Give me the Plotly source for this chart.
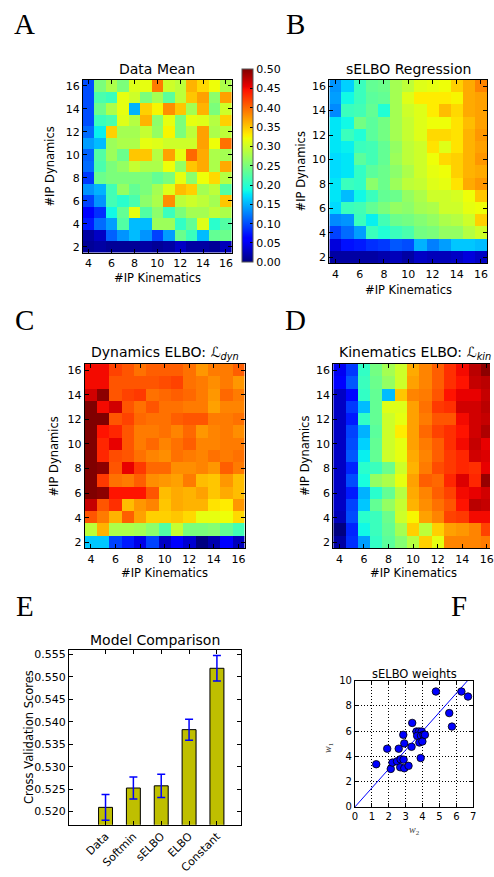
import plotly.graph_objects as go

W, H = 494, 877

# ---------------- data ----------------
kin = list(range(4, 17))            # #IP Kinematics (columns)
dyn = list(range(16, 1, -1))        # #IP Dynamics (rows, top -> bottom)

data_mean = [
    [0.100,0.250,0.280,0.250,0.310,0.315,0.390,0.300,0.290,0.360,0.340,0.320,0.280],
    [0.100,0.220,0.210,0.315,0.300,0.250,0.275,0.230,0.290,0.350,0.370,0.260,0.370],
    [0.100,0.240,0.280,0.315,0.150,0.345,0.325,0.380,0.350,0.275,0.360,0.250,0.300],
    [0.100,0.210,0.220,0.310,0.285,0.360,0.260,0.315,0.250,0.315,0.310,0.285,0.345],
    [0.115,0.180,0.345,0.275,0.275,0.295,0.265,0.325,0.250,0.290,0.370,0.280,0.290],
    [0.140,0.155,0.270,0.280,0.280,0.315,0.310,0.300,0.300,0.300,0.370,0.320,0.395],
    [0.110,0.225,0.270,0.240,0.350,0.350,0.285,0.370,0.315,0.400,0.365,0.280,0.275],
    [0.115,0.220,0.250,0.265,0.295,0.280,0.280,0.320,0.265,0.350,0.365,0.280,0.365],
    [0.090,0.240,0.250,0.250,0.250,0.250,0.235,0.250,0.315,0.260,0.320,0.340,0.285],
    [0.135,0.150,0.215,0.265,0.235,0.250,0.275,0.310,0.355,0.345,0.275,0.290,0.225],
    [0.095,0.135,0.215,0.200,0.220,0.260,0.280,0.380,0.290,0.300,0.290,0.275,0.350],
    [0.060,0.085,0.185,0.235,0.315,0.225,0.260,0.210,0.250,0.275,0.275,0.290,0.280],
    [0.075,0.115,0.140,0.225,0.155,0.155,0.270,0.270,0.205,0.235,0.310,0.200,0.225],
    [0.015,0.030,0.110,0.135,0.155,0.135,0.095,0.140,0.240,0.210,0.155,0.235,0.240],
    [0.010,0.015,0.010,0.010,0.010,0.015,0.010,0.015,0.030,0.015,0.015,0.010,0.025],
]

selbo_regression = [
    [0.135,0.165,0.210,0.235,0.240,0.275,0.290,0.310,0.315,0.320,0.345,0.365,0.385],
    [0.140,0.185,0.210,0.230,0.235,0.275,0.310,0.330,0.330,0.330,0.325,0.365,0.370],
    [0.130,0.210,0.215,0.235,0.195,0.275,0.300,0.310,0.330,0.355,0.340,0.365,0.370],
    [0.175,0.185,0.245,0.230,0.245,0.275,0.295,0.310,0.320,0.320,0.335,0.355,0.370],
    [0.175,0.210,0.195,0.230,0.245,0.275,0.295,0.310,0.340,0.340,0.335,0.360,0.375],
    [0.175,0.180,0.210,0.215,0.235,0.265,0.290,0.300,0.335,0.310,0.335,0.360,0.370],
    [0.170,0.175,0.230,0.215,0.235,0.270,0.290,0.300,0.320,0.340,0.345,0.360,0.375],
    [0.170,0.175,0.205,0.230,0.240,0.260,0.280,0.300,0.315,0.320,0.345,0.360,0.365],
    [0.175,0.210,0.205,0.260,0.240,0.270,0.290,0.295,0.310,0.315,0.335,0.365,0.375],
    [0.175,0.155,0.185,0.210,0.235,0.240,0.265,0.280,0.300,0.300,0.305,0.320,0.350],
    [0.170,0.210,0.215,0.235,0.250,0.265,0.260,0.275,0.280,0.300,0.300,0.315,0.320],
    [0.130,0.135,0.210,0.180,0.215,0.240,0.245,0.255,0.265,0.280,0.285,0.300,0.345],
    [0.095,0.115,0.140,0.210,0.195,0.210,0.220,0.245,0.250,0.265,0.265,0.285,0.300],
    [0.040,0.070,0.075,0.085,0.090,0.105,0.100,0.150,0.125,0.140,0.160,0.160,0.155],
    [0.015,0.015,0.015,0.015,0.020,0.025,0.015,0.030,0.025,0.025,0.030,0.040,0.030],
]

# normalised ELBO maps (no colour bar in the reference)
dynamics_elbo = [
    [0.90,0.90,0.84,0.82,0.79,0.81,0.81,0.81,0.79,0.75,0.78,0.78,0.81],
    [0.90,0.90,0.82,0.82,0.82,0.82,0.83,0.84,0.79,0.78,0.76,0.78,0.75],
    [0.93,0.99,0.82,0.84,0.85,0.79,0.80,0.81,0.80,0.78,0.75,0.80,0.78],
    [1.00,0.90,0.93,0.82,0.79,0.82,0.79,0.79,0.78,0.78,0.74,0.77,0.77],
    [1.00,1.00,0.82,0.84,0.80,0.79,0.79,0.81,0.82,0.82,0.78,0.78,0.79],
    [1.00,0.89,0.87,0.82,0.78,0.78,0.79,0.77,0.80,0.75,0.77,0.78,0.76],
    [1.00,0.87,0.91,0.82,0.78,0.80,0.77,0.79,0.81,0.77,0.77,0.78,0.78],
    [1.00,0.87,0.83,0.82,0.79,0.77,0.76,0.79,0.78,0.77,0.79,0.78,0.79],
    [1.00,0.99,0.82,0.91,0.85,0.80,0.80,0.76,0.76,0.77,0.75,0.81,0.78],
    [1.00,0.85,0.79,0.78,0.81,0.76,0.75,0.74,0.78,0.71,0.70,0.75,0.71],
    [1.00,0.99,0.89,0.89,0.89,0.82,0.71,0.73,0.72,0.74,0.70,0.73,0.71],
    [0.94,0.82,0.86,0.71,0.75,0.77,0.70,0.73,0.72,0.72,0.67,0.66,0.75],
    [0.82,0.78,0.72,0.81,0.74,0.69,0.69,0.70,0.68,0.63,0.63,0.64,0.68],
    [0.58,0.72,0.56,0.56,0.55,0.52,0.45,0.59,0.50,0.50,0.51,0.47,0.43],
    [0.32,0.32,0.19,0.15,0.09,0.19,0.06,0.12,0.07,0.00,0.04,0.12,0.05],
]

kinematics_elbo = [
    [0.10,0.18,0.41,0.49,0.55,0.60,0.73,0.77,0.81,0.86,0.90,0.95,0.99],
    [0.12,0.21,0.42,0.48,0.53,0.60,0.74,0.77,0.81,0.86,0.89,0.94,0.95],
    [0.06,0.13,0.41,0.47,0.31,0.70,0.77,0.78,0.82,0.89,0.91,0.91,0.94],
    [0.06,0.18,0.31,0.47,0.62,0.62,0.74,0.79,0.85,0.86,0.93,0.93,0.95],
    [0.06,0.15,0.41,0.47,0.60,0.63,0.74,0.78,0.82,0.82,0.90,0.93,0.94],
    [0.06,0.19,0.30,0.46,0.60,0.66,0.74,0.80,0.84,0.86,0.89,0.93,0.96],
    [0.06,0.20,0.33,0.47,0.60,0.63,0.74,0.78,0.81,0.86,0.90,0.94,0.91],
    [0.06,0.21,0.36,0.47,0.60,0.63,0.73,0.77,0.81,0.85,0.87,0.93,0.92],
    [0.06,0.16,0.40,0.42,0.48,0.60,0.72,0.78,0.83,0.85,0.87,0.86,0.91],
    [0.06,0.20,0.38,0.53,0.56,0.63,0.74,0.81,0.80,0.87,0.92,0.87,0.98],
    [0.06,0.15,0.30,0.40,0.47,0.57,0.73,0.77,0.81,0.84,0.90,0.91,0.93],
    [0.06,0.19,0.32,0.47,0.53,0.59,0.72,0.76,0.79,0.82,0.89,0.95,0.94],
    [0.05,0.20,0.40,0.42,0.48,0.60,0.65,0.74,0.77,0.84,0.85,0.90,0.90],
    [0.00,0.16,0.37,0.42,0.47,0.55,0.69,0.58,0.69,0.74,0.75,0.77,0.84],
    [0.03,0.17,0.28,0.41,0.46,0.51,0.57,0.69,0.63,0.77,0.77,0.77,0.78],
]

models = ["Data", "Softmin", "sELBO", "ELBO", "Constant"]
cv_scores = [0.52095, 0.52526, 0.52575, 0.53827, 0.55194]
cv_errors = [0.00285, 0.00245, 0.00260, 0.00234, 0.00285]

w2 = [1.26,1.91,2.12,2.22,2.49,2.59,2.70,2.68,2.88,2.92,2.86,2.92,3.17,3.35,3.39,
      3.64,3.79,3.95,3.68,3.91,4.05,3.81,3.99,3.89,4.14,4.79,5.58,5.74,6.30,6.69]
w1 = [3.38,4.61,3.01,3.51,3.61,4.61,3.77,3.14,3.74,3.06,5.71,5.03,3.25,4.76,6.65,
      5.97,5.97,5.97,5.63,5.63,5.71,5.10,5.18,3.87,5.71,9.14,7.43,6.36,9.14,8.74]
fit_w2 = [0, 7]
fit_w1 = [0, 10.5]

heat_x_ticks = [4, 6, 8, 10, 12, 14, 16]
heat_y_ticks = [2, 4, 6, 8, 10, 12, 14, 16]
cbar_ticks = [0.00, 0.05, 0.10, 0.15, 0.20, 0.25, 0.30, 0.35, 0.40, 0.45, 0.50]
bar_y_ticks = [0.520, 0.525, 0.530, 0.535, 0.540, 0.545, 0.550, 0.555]

# ---------------- style ----------------
# matplotlib "jet"
jet = [
    [0.0, "rgb(0,0,128)"], [0.11, "rgb(0,0,255)"], [0.125, "rgb(0,0,255)"],
    [0.34, "rgb(0,219,255)"], [0.35, "rgb(0,230,247)"], [0.375, "rgb(21,255,226)"],
    [0.64, "rgb(238,255,8)"], [0.65, "rgb(247,246,0)"], [0.66, "rgb(255,236,0)"],
    [0.89, "rgb(255,19,0)"], [0.91, "rgb(232,0,0)"], [1.0, "rgb(128,0,0)"],
]

SANS = "DejaVu Sans"
SERIF = "Liberation Serif"


def px(x):
    return x / W


def py(y):
    return 1 - y / H


def axis_common(**kw):
    d = dict(showline=True, linecolor="black", linewidth=1, mirror="ticks",
             ticks="inside", ticklen=4, tickcolor="black", tickwidth=1,
             showgrid=False, zeroline=False, ticklabeloverflow="allow",
             tickfont=dict(family=SANS, size=11, color="black"))
    d.update(kw)
    return d


fig = go.Figure()

panels = [
    (data_mean, 0, 0.5, True),
    (selbo_regression, 0, 0.5, False),
    (dynamics_elbo, 0, 1, False),
    (kinematics_elbo, 0, 1, False),
]
for i, (z, zmin, zmax, scale) in enumerate(panels):
    suffix = "" if i == 0 else str(i + 1)
    tr = go.Heatmap(z=z, x=kin, y=dyn, colorscale=jet, zmin=zmin, zmax=zmax,
                    showscale=scale, xaxis="x" + suffix, yaxis="y" + suffix,
                    hoverinfo="skip")
    if scale:
        tr.colorbar = dict(x=px(242), xanchor="left", xpad=0,
                           y=py(162), yanchor="middle", len=(260 - 64) / H,
                           lenmode="fraction", thickness=11, thicknessmode="pixels",
                           ypad=0, outlinecolor="#555", outlinewidth=1,
                           tickvals=cbar_ticks, tickformat=".2f",
                           ticks="inside", ticklen=3, tickcolor="black",
                           tickfont=dict(family=SANS, size=11, color="black"))
    fig.add_trace(tr)

# bar shadow + bars
fig.add_trace(go.Bar(x=models, y=cv_scores, width=0.5, offset=-0.23,
                     marker=dict(color="#d0d0d0", line=dict(width=0)),
                     xaxis="x5", yaxis="y5", hoverinfo="skip"))
fig.add_trace(go.Bar(x=models, y=cv_scores, width=0.5, offset=-0.25,
                     marker=dict(color="#bfbf00", line=dict(color="black", width=1)),
                     error_y=dict(type="data", array=cv_errors, color="blue",
                                  thickness=1.5, width=4),
                     xaxis="x5", yaxis="y5", hoverinfo="skip"))
# scatter
fig.add_trace(go.Scatter(x=fit_w2, y=fit_w1, mode="lines",
                         line=dict(color="blue", width=1),
                         xaxis="x6", yaxis="y6", hoverinfo="skip"))
fig.add_trace(go.Scatter(x=w2, y=w1, mode="markers",
                         marker=dict(color="blue", size=7.5,
                                     line=dict(color="black", width=0.8)),
                         xaxis="x6", yaxis="y6", hoverinfo="skip"))

boxes = {
    "": (81, 232, 75, 250),
    "2": (331, 491, 75, 261),
    "3": (83, 245, 363, 550),
    "4": (335, 494, 363, 550),
}
lay = {}
for s, (x0, x1, y0, y1) in boxes.items():
    xr = [3.5, 16.5]
    if s == "4":
        xr = [3.5, 3.5 + 13 * (x1 - x0) / 162.0]
    lay["xaxis" + s] = axis_common(domain=[px(x0), px(x1)], anchor="y" + s,
                                   range=xr, tickvals=heat_x_ticks)
    lay["yaxis" + s] = axis_common(domain=[py(y1), py(y0)], anchor="x" + s,
                                   range=[1.5, 16.5], tickvals=heat_y_ticks)
lay["yaxis4"]["mirror"] = False

lay["xaxis5"] = axis_common(domain=[px(67), px(241)], anchor="y5",
                            range=[-1.31, 4.85], tickangle=-45, type="category")
lay["yaxis5"] = axis_common(domain=[py(830), py(653)], anchor="x5",
                            range=[0.5171, 0.5560], tickvals=bar_y_ticks,
                            tickformat=".3f")
grid = dict(showgrid=True, gridcolor="black", griddash="1px,2px", gridwidth=1,
            tickfont=dict(family=SANS, size=10, color="black"))
lay["xaxis6"] = axis_common(domain=[px(357), px(477)], anchor="y6", range=[0, 7],
                            dtick=1, **grid)
lay["yaxis6"] = axis_common(domain=[py(812), py(684)], anchor="x6", range=[0, 10],
                            dtick=2, **grid)


def txt(text, x, y, size, family=SANS, angle=0, color="black"):
    return dict(text=text, x=px(x), y=py(y), xref="paper", yref="paper",
                xanchor="center", yanchor="middle", showarrow=False,
                textangle=angle, font=dict(family=family, size=size, color=color))


annotations = [
    txt("A", 22, 18, 29, SERIF), txt("B", 297, 18, 29, SERIF),
    txt("C", 22, 318, 29, SERIF), txt("D", 297, 318, 29, SERIF),
    txt("E", 22, 608, 29, SERIF), txt("F", 463, 608, 29, SERIF),
    txt("Data Mean", 156.5, 64, 14), txt("sELBO Regression", 411, 64, 14),
    txt("Dynamics ELBO: <i>ℒ</i><sub><i>dyn</i></sub>", 164, 352, 14),
    txt("Kinematics ELBO: <i>ℒ</i><sub><i>kin</i></sub>", 418, 352, 14),
    txt("Model Comparison", 154, 643, 14), txt("sELBO weights", 417, 677, 11.5),
    txt("#IP Kinematics", 156.5, 276, 11.5), txt("#IP Kinematics", 411, 288, 11.5),
    txt("#IP Kinematics", 164, 575, 11.5), txt("#IP Kinematics", 416.5, 575, 11.5),
    txt("#IP Dynamics", 48, 162.5, 11.5, angle=-90),
    txt("#IP Dynamics", 302, 168, 11.5, angle=-90),
    txt("#IP Dynamics", 52, 456.5, 11.5, angle=-90),
    txt("#IP Dynamics", 307, 456.5, 11.5, angle=-90),
    txt("Cross Validation Scores", 27, 741.5, 11.5, angle=-90),
    txt("<i>w</i><sub>2</sub>", 417, 836, 10, SERIF, color="#444"),
    txt("<i>w</i><sub>1</sub>", 330, 752, 10, SERIF, angle=-90, color="#444"),
]

fig.update_layout(width=W, height=H, margin=dict(l=0, r=0, t=0, b=0),
                  paper_bgcolor="white", plot_bgcolor="white", showlegend=False,
                  barmode="overlay",
                  annotations=annotations, font=dict(family=SANS, color="black"),
                  **lay)

fig.write_html("out.html", config={"displayModeBar": False})
